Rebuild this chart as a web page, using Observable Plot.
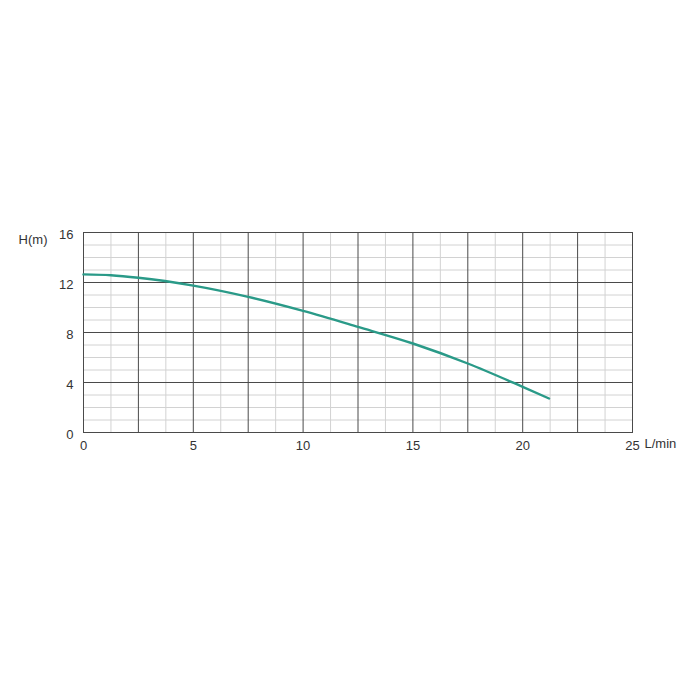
<!DOCTYPE html>
<html>
<head>
<meta charset="utf-8">
<script src="https://cdn.jsdelivr.net/npm/d3@7"></script>
<script src="https://cdn.jsdelivr.net/npm/@observablehq/plot@0.6"></script>
<style>
  html, body { margin: 0; padding: 0; background: #fff; }
  #chart { padding-top: 212px; }
  svg { overflow: visible; }
</style>
</head>
<body>
<div id="chart"></div>
<script>
// Flow (L/min) and head (m)
const flow = [0, 1.25, 2.5, 5, 7.5, 10, 12.5, 15, 17.5, 20, 21.2];
const head = [12.65, 12.58, 12.38, 11.75, 10.85, 9.73, 8.45, 7.12, 5.52, 3.65, 2.72];

// Grid and tick values
const xMajorGrid = [0, 2.5, 5, 7.5, 10, 12.5, 15, 17.5, 20, 22.5, 25];
const xMinorGrid = [1.25, 3.75, 6.25, 8.75, 11.25, 13.75, 16.25, 18.75, 21.25, 23.75];
const yMajorGrid = [0, 4, 8, 12, 16];
const yMinorGrid = [1, 2, 3, 5, 6, 7, 9, 10, 11, 13, 14, 15];
const xTickLabels = [0, 5, 10, 15, 20, 25];
const yTickLabels = [0, 4, 8, 12, 16];
const yTitle = "H(m)";
const xTitle = "L/min";

const curve = flow.map((q, i) => ({q, h: head[i]}));
const font = "'Liberation Sans', Arial, sans-serif";

const chart = Plot.plot({
  width: 700,
  height: 250,
  marginLeft: 83,
  marginRight: 68,
  marginTop: 20,
  marginBottom: 30,
  style: {fontFamily: font, fontSize: "13px", color: "#333", background: "#fff"},
  x: {domain: [0, 25]},
  y: {domain: [0, 16]},
  marks: [
    Plot.ruleX(xMinorGrid, {stroke: "#d2d2d2", strokeWidth: 1}),
    Plot.ruleY(yMinorGrid, {stroke: "#d2d2d2", strokeWidth: 1}),
    Plot.ruleX(xMajorGrid, {stroke: "#4a4a4a", strokeWidth: 1}),
    Plot.ruleY(yMajorGrid, {stroke: "#4a4a4a", strokeWidth: 1}),
    Plot.frame({stroke: "#4a4a4a", strokeWidth: 1}),
    Plot.axisX(xTickLabels, {tickSize: 0, tickPadding: 8, label: null, fill: "#333", fontSize: 13}),
    Plot.axisY(yTickLabels, {tickSize: 0, tickPadding: 10, label: null, fill: "#333", fontSize: 13, dy: 2}),
    Plot.line(curve, {x: "q", y: "h", curve: "monotone-x", stroke: "#2a9a88", strokeWidth: 2.4}),
    Plot.text([yTitle], {frameAnchor: "top-left", textAnchor: "end", dx: -36, dy: 2, fill: "#333", fontSize: 13}),
    Plot.text([xTitle], {frameAnchor: "bottom-right", textAnchor: "start", dx: 12, dy: 15, fill: "#333", fontSize: 13})
  ]
});
document.getElementById("chart").appendChild(chart);
</script>
</body>
</html>
